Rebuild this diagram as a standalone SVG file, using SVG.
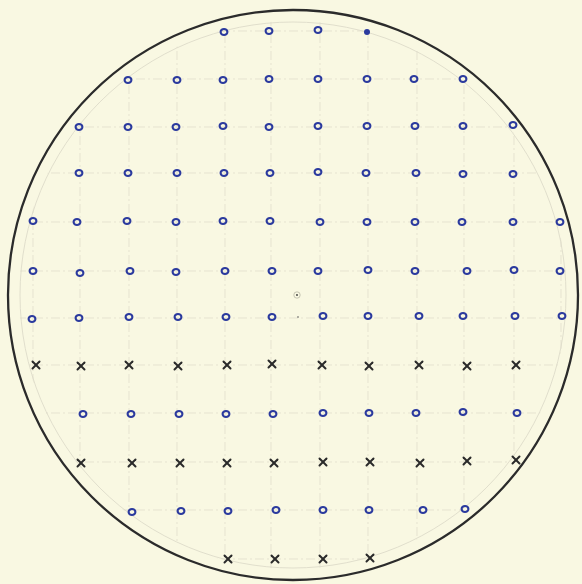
<svg xmlns="http://www.w3.org/2000/svg" width="582" height="584" viewBox="0 0 582 584">
<style>
.ring{fill:none;stroke:#2b3a9e;stroke-width:2.1}
.cross{stroke:#2a2a2a;stroke-width:2;stroke-linecap:round}
.grid line{stroke:#dedbc8;stroke-width:0.7;stroke-dasharray:9 3 2 3}
</style>
<defs>
<ellipse id="o" class="ring" cx="0" cy="0" rx="3.4" ry="3"/>
<g id="x" class="cross"><line x1="-3.5" y1="-3.5" x2="3.5" y2="3.5"/><line x1="3.5" y1="-3.5" x2="-3.5" y2="3.5"/></g>
<clipPath id="inner"><circle cx="293" cy="295" r="274"/></clipPath>
</defs>
<rect width="582" height="584" fill="#f9f8e2"/>
<g class="grid" clip-path="url(#inner)">
<line x1="0" y1="31" x2="582" y2="31"/><line x1="0" y1="79" x2="582" y2="79"/><line x1="0" y1="127" x2="582" y2="127"/><line x1="0" y1="173" x2="582" y2="173"/><line x1="0" y1="222" x2="582" y2="222"/><line x1="0" y1="271" x2="582" y2="271"/><line x1="0" y1="318" x2="582" y2="318"/><line x1="0" y1="365" x2="582" y2="365"/><line x1="0" y1="413" x2="582" y2="413"/><line x1="0" y1="462" x2="582" y2="462"/><line x1="0" y1="510" x2="582" y2="510"/><line x1="0" y1="559" x2="582" y2="559"/>
<line x1="33" y1="0" x2="33" y2="584"/><line x1="80" y1="0" x2="80" y2="584"/><line x1="129" y1="0" x2="129" y2="584"/><line x1="177" y1="0" x2="177" y2="584"/><line x1="225" y1="0" x2="225" y2="584"/><line x1="271" y1="0" x2="271" y2="584"/><line x1="320" y1="0" x2="320" y2="584"/><line x1="368" y1="0" x2="368" y2="584"/><line x1="417" y1="0" x2="417" y2="584"/><line x1="464" y1="0" x2="464" y2="584"/><line x1="514" y1="0" x2="514" y2="584"/><line x1="561" y1="0" x2="561" y2="584"/>
</g>
<circle cx="293" cy="295" r="273" fill="none" stroke="#dedbc9" stroke-width="0.9"/>
<circle cx="293" cy="295" r="285" fill="none" stroke="#2b2b2b" stroke-width="2.3"/>
<g id="row1"><use href="#o" x="224" y="32"/><use href="#o" x="269" y="31"/><use href="#o" x="318" y="30"/><circle cx="367" cy="32" r="3" fill="#2b3a9e"/></g>
<g id="row2"><use href="#o" x="128" y="80"/><use href="#o" x="177" y="80"/><use href="#o" x="223" y="80"/><use href="#o" x="269" y="79"/><use href="#o" x="318" y="79"/><use href="#o" x="367" y="79"/><use href="#o" x="414" y="79"/><use href="#o" x="463" y="79"/></g>
<g id="row3"><use href="#o" x="79" y="127"/><use href="#o" x="128" y="127"/><use href="#o" x="176" y="127"/><use href="#o" x="223" y="126"/><use href="#o" x="269" y="127"/><use href="#o" x="318" y="126"/><use href="#o" x="367" y="126"/><use href="#o" x="415" y="126"/><use href="#o" x="463" y="126"/><use href="#o" x="513" y="125"/></g>
<g id="row4"><use href="#o" x="79" y="173"/><use href="#o" x="128" y="173"/><use href="#o" x="177" y="173"/><use href="#o" x="224" y="173"/><use href="#o" x="270" y="173"/><use href="#o" x="318" y="172"/><use href="#o" x="366" y="173"/><use href="#o" x="416" y="173"/><use href="#o" x="463" y="174"/><use href="#o" x="513" y="174"/></g>
<g id="row5"><use href="#o" x="33" y="221"/><use href="#o" x="77" y="222"/><use href="#o" x="127" y="221"/><use href="#o" x="176" y="222"/><use href="#o" x="223" y="221"/><use href="#o" x="270" y="221"/><use href="#o" x="320" y="222"/><use href="#o" x="367" y="222"/><use href="#o" x="415" y="222"/><use href="#o" x="462" y="222"/><use href="#o" x="513" y="222"/><use href="#o" x="560" y="222"/></g>
<g id="row6"><use href="#o" x="33" y="271"/><use href="#o" x="80" y="273"/><use href="#o" x="130" y="271"/><use href="#o" x="176" y="272"/><use href="#o" x="225" y="271"/><use href="#o" x="272" y="271"/><use href="#o" x="318" y="271"/><use href="#o" x="368" y="270"/><use href="#o" x="415" y="271"/><use href="#o" x="467" y="271"/><use href="#o" x="514" y="270"/><use href="#o" x="560" y="271"/></g>
<g id="row7"><use href="#o" x="32" y="319"/><use href="#o" x="79" y="318"/><use href="#o" x="129" y="317"/><use href="#o" x="178" y="317"/><use href="#o" x="226" y="317"/><use href="#o" x="272" y="317"/><use href="#o" x="323" y="316"/><use href="#o" x="368" y="316"/><use href="#o" x="419" y="316"/><use href="#o" x="463" y="316"/><use href="#o" x="515" y="316"/><use href="#o" x="562" y="316"/></g>
<g id="row8"><use href="#x" x="36" y="365"/><use href="#x" x="81" y="366"/><use href="#x" x="129" y="365"/><use href="#x" x="178" y="366"/><use href="#x" x="227" y="365"/><use href="#x" x="272" y="364"/><use href="#x" x="322" y="365"/><use href="#x" x="369" y="366"/><use href="#x" x="419" y="365"/><use href="#x" x="467" y="366"/><use href="#x" x="516" y="365"/></g>
<g id="row9"><use href="#o" x="83" y="414"/><use href="#o" x="131" y="414"/><use href="#o" x="179" y="414"/><use href="#o" x="226" y="414"/><use href="#o" x="273" y="414"/><use href="#o" x="323" y="413"/><use href="#o" x="369" y="413"/><use href="#o" x="416" y="413"/><use href="#o" x="463" y="412"/><use href="#o" x="517" y="413"/></g>
<g id="row10"><use href="#x" x="81" y="463"/><use href="#x" x="132" y="463"/><use href="#x" x="180" y="463"/><use href="#x" x="227" y="463"/><use href="#x" x="274" y="463"/><use href="#x" x="323" y="462"/><use href="#x" x="370" y="462"/><use href="#x" x="420" y="463"/><use href="#x" x="467" y="461"/><use href="#x" x="516" y="460"/></g>
<g id="row11"><use href="#o" x="132" y="512"/><use href="#o" x="181" y="511"/><use href="#o" x="228" y="511"/><use href="#o" x="276" y="510"/><use href="#o" x="323" y="510"/><use href="#o" x="369" y="510"/><use href="#o" x="423" y="510"/><use href="#o" x="465" y="509"/></g>
<g id="row12"><use href="#x" x="228" y="559"/><use href="#x" x="275" y="559"/><use href="#x" x="323" y="559"/><use href="#x" x="370" y="558"/></g>
<g id="centre"><circle cx="297" cy="295" r="3.2" fill="none" stroke="#b9b7a6" stroke-width="0.8"/><circle cx="297" cy="295" r="0.9" fill="#333"/><circle cx="298" cy="317" r="0.8" fill="#555"/></g>
</svg>
